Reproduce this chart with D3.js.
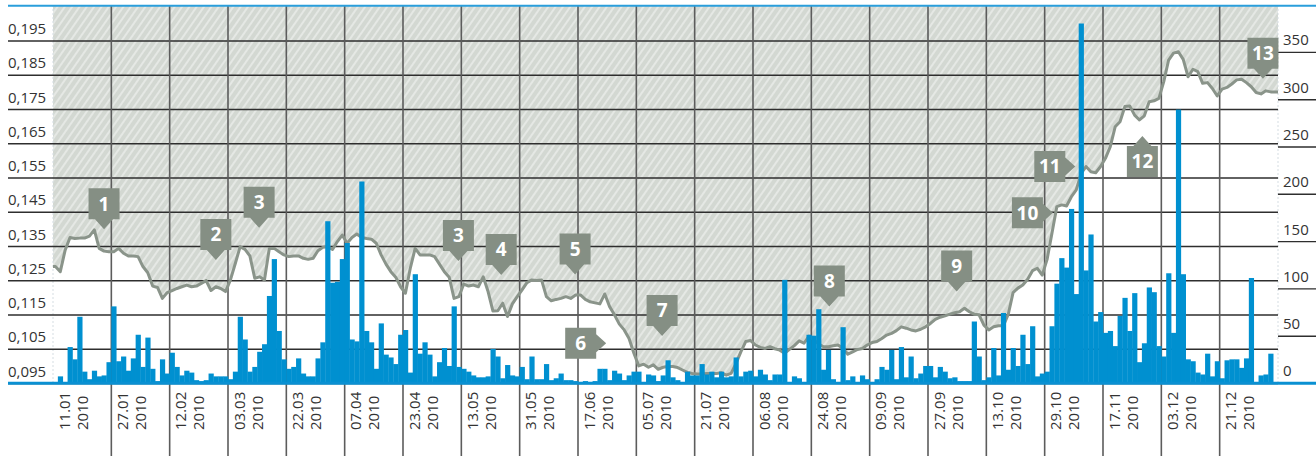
<!DOCTYPE html>
<html>
<head>
<meta charset="utf-8">
<script src="https://cdnjs.cloudflare.com/ajax/libs/d3/7.8.5/d3.min.js"></script>
<style>
body { margin: 0; background: #fff; }
svg { display: block; }
</style>
</head>
<body>
<div id="wrapper"></div>
<script>
// x axis: one label per 12 trading days
const dateLabels = ["11.01", "27.01", "12.02", "03.03", "22.03", "07.04", "23.04", "13.05", "31.05", "17.06",
    "05.07", "21.07", "06.08", "24.08", "09.09", "27.09", "13.10", "29.10", "17.11", "03.12", "21.12"]
const yearLabel = "2010"
const leftTicks = [0.095, 0.105, 0.115, 0.125, 0.135, 0.145, 0.155, 0.165, 0.175, 0.185, 0.195]
const rightTicks = [0, 50, 100, 150, 200, 250, 300, 350]

// daily volume (right axis), 12 days per row
const volume = [
    1, 7, 0, 38, 25, 70, 12, 4, 13, 7, 8, 22,
    81, 23, 28, 13, 26, 51, 17, 48, 15, 2, 25, 10,
    32, 17, 8, 13, 11, 3, 2, 3, 10, 7, 7, 7,
    4, 12, 70, 46, 12, 17, 33, 41, 92, 131, 55, 25,
    15, 17, 26, 10, 7, 7, 26, 43, 171, 106, 107, 131,
    148, 46, 44, 213, 55, 43, 15, 63, 30, 27, 20, 51,
    56, 11, 115, 31, 43, 30, 7, 22, 37, 18, 81, 17,
    15, 12, 8, 6, 6, 7, 36, 28, 5, 19, 8, 7,
    17, 4, 28, 4, 4, 20, 3, 5, 10, 3, 3, 2,
    1, 2, 1, 2, 15, 15, 3, 13, 10, 3, 8, 12,
    12, 1, 9, 8, 2, 8, 24, 6, 3, 1, 12, 8,
    8, 20, 9, 12, 6, 12, 6, 7, 27, 7, 12, 13,
    7, 14, 9, 3, 9, 9, 109, 1, 7, 5, 1, 51,
    50, 78, 14, 35, 4, 1, 59, 3, 7, 1, 8, 4,
    1, 4, 17, 14, 35, 4, 38, 6, 28, 5, 10, 18,
    18, 6, 17, 12, 5, 6, 2, 2, 2, 65, 28, 3,
    6, 37, 8, 74, 14, 37, 18, 51, 20, 60, 7, 10,
    12, 60, 105, 132, 122, 184, 94, 380, 119, 157, 65, 75,
    53, 55, 39, 71, 90, 55, 95, 22, 42, 101, 96, 39,
    28, 116, 53, 289, 115, 25, 23, 11, 9, 31, 7, 23,
    5, 24, 25, 25, 16, 26, 111, 0, 8, 9, 31, 0
]

// daily price (left axis)
const price = [
    0.1290, 0.1275, 0.1338, 0.1375, 0.1372, 0.1373, 0.1373, 0.1379, 0.1397, 0.1343,
    0.1335, 0.1333, 0.1333, 0.1343, 0.1329, 0.1321, 0.1321, 0.1319, 0.1290, 0.1272,
    0.1233, 0.1229, 0.1197, 0.1214, 0.1220, 0.1226, 0.1231, 0.1236, 0.1231, 0.1233,
    0.1241, 0.1249, 0.1220, 0.1231, 0.1226, 0.1217, 0.1251, 0.1299, 0.1348, 0.1340,
    0.1321, 0.1256, 0.1260, 0.1251, 0.1343, 0.1343, 0.1333, 0.1324, 0.1319, 0.1321,
    0.1321, 0.1314, 0.1311, 0.1314, 0.1336, 0.1346, 0.1348, 0.1340, 0.1363, 0.1382,
    0.1358, 0.1375, 0.1385, 0.1375, 0.1372, 0.1370, 0.1358, 0.1324, 0.1297, 0.1275,
    0.1259, 0.1231, 0.1212, 0.1285, 0.1343, 0.1324, 0.1324, 0.1324, 0.1319, 0.1297,
    0.1275, 0.1259, 0.1197, 0.1202, 0.1239, 0.1233, 0.1236, 0.1231, 0.1260, 0.1217,
    0.1160, 0.1161, 0.1183, 0.1144, 0.1181, 0.1202, 0.1222, 0.1243, 0.1251, 0.1249,
    0.1251, 0.1202, 0.1190, 0.1194, 0.1197, 0.1202, 0.1197, 0.1207, 0.1207, 0.1194,
    0.1187, 0.1184, 0.1181, 0.1210, 0.1173, 0.1149, 0.1122, 0.1105, 0.1080, 0.1037,
    0.1000, 0.1005, 0.0996, 0.1003, 0.0990, 0.0996, 0.0998, 0.0998, 0.0995, 0.0988,
    0.0981, 0.0978, 0.0976, 0.0976, 0.0978, 0.0978, 0.0978, 0.0980, 0.0973, 0.0978,
    0.1007, 0.1041, 0.1071, 0.1074, 0.1061, 0.1054, 0.1051, 0.1056, 0.1050, 0.1046,
    0.1037, 0.1048, 0.1059, 0.1073, 0.1066, 0.1087, 0.1076, 0.1064, 0.1056, 0.1056,
    0.1059, 0.1061, 0.1051, 0.1034, 0.1041, 0.1048, 0.1051, 0.1061, 0.1068, 0.1071,
    0.1080, 0.1090, 0.1095, 0.1103, 0.1114, 0.1110, 0.1105, 0.1102, 0.1107, 0.1114,
    0.1124, 0.1136, 0.1142, 0.1146, 0.1151, 0.1155, 0.1158, 0.1168, 0.1158, 0.1151,
    0.1149, 0.1119, 0.1105, 0.1114, 0.1117, 0.1117, 0.1150, 0.1214, 0.1227, 0.1236,
    0.1253, 0.1278, 0.1285, 0.1265, 0.1311, 0.1387, 0.1465, 0.1470, 0.1467, 0.1494,
    0.1514, 0.1562, 0.1582, 0.1567, 0.1564, 0.1582, 0.1606, 0.1640, 0.1698, 0.1713,
    0.1757, 0.1759, 0.1732, 0.1718, 0.1730, 0.1771, 0.1774, 0.1781, 0.1830, 0.1893,
    0.1913, 0.1917, 0.1895, 0.1844, 0.1866, 0.1859, 0.1825, 0.1827, 0.1810, 0.1788,
    0.1808, 0.1813, 0.1823, 0.1835, 0.1837, 0.1827, 0.1815, 0.1798, 0.1794, 0.1803,
    0.1800, 0.1800
]

// numbered callouts: tip at (day index, price), pointer direction
const markerLabels = ["1", "2", "3", "3", "4", "5", "6", "7", "8", "9", "10", "11", "12", "13"]
const markerDays = [10.0, 33.0, 41.9, 82.9, 91.7, 106.9, 113.3, 124.8, 159.2, 185.4, 205.2, 209.8, 223.6, 248.4]
const markerPrices = [0.1399, 0.1309, 0.1403, 0.1306, 0.1265, 0.1267, 0.1066, 0.1087, 0.1173, 0.1217, 0.1447, 0.1582, 0.1671, 0.1838]
const markerDirs = ["down", "down", "down", "down", "down", "down", "right", "down", "down", "down", "right", "right", "up", "down"]

const dimensions = {
    width: 1316,
    height: 456,
    left: 53,
    right: 1278,
    top: 5,
    bottom: 383,
    edge: 8
}
const daysPerLabel = 12
const fontFamily = "'Open Sans', 'DejaVu Sans', sans-serif"

const svg = d3.select("#wrapper").append("svg")
    .attr("width", dimensions.width)
    .attr("height", dimensions.height)

const defs = svg.append("defs")
const pattern = defs.append("pattern")
    .attr("id", "hatch")
    .attr("patternUnits", "userSpaceOnUse")
    .attr("width", 6)
    .attr("height", 6)
    .attr("patternTransform", "rotate(35)")
pattern.append("rect").attr("width", 6).attr("height", 6).attr("fill", "#d3d8d2")
pattern.append("line")
    .attr("x1", 3).attr("x2", 3).attr("y1", 0).attr("y2", 6)
    .attr("stroke", "#ffffff").attr("stroke-opacity", 0.75).attr("stroke-width", 1.1)

const x = d3.scaleBand()
    .domain(d3.range(volume.length))
    .range([dimensions.left, dimensions.right])
    .padding(0)
const bw = x.bandwidth()
const dayX = d => dimensions.left + bw * (d + 0.5)

const yL = d3.scaleLinear().domain([0.095, 0.195]).range([dimensions.bottom, 40.5])
const yR = d3.scaleLinear().domain([0, 350]).range([dimensions.bottom, 51.9])

// price points, stretched to the plot edges
const pts = price.map((v, i) => [x(i) + bw / 2, v])
pts.unshift([dimensions.left, price[0]])
pts.push([dimensions.right, price[price.length - 1]])

// hatched area above the price line
const area = d3.area()
    .x(d => d[0])
    .y0(dimensions.top)
    .y1(d => yL(d[1]))
svg.append("path")
    .datum(pts)
    .attr("d", area)
    .attr("fill", "url(#hatch)")

// faint edges
svg.selectAll(".edge").data([dimensions.left, dimensions.right]).enter()
    .append("line")
    .attr("x1", d => d).attr("x2", d => d)
    .attr("y1", dimensions.top).attr("y2", dimensions.bottom)
    .attr("stroke", "#d5dde2").attr("stroke-dasharray", "2,2")

// left axis with full-width grid lines
const leftAxis = d3.axisLeft(yL)
    .tickValues(leftTicks)
    .tickSize(-(dimensions.right - dimensions.edge))
    .tickFormat(d => d3.format(".3f")(d).replace(".", ","))
svg.append("g")
    .attr("transform", `translate(${dimensions.edge},0)`)
    .call(leftAxis)
    .call(g => g.select(".domain").remove())
    .call(g => g.selectAll("line").attr("stroke", "#2e2e2e").attr("stroke-width", 1.4))
    .call(g => g.selectAll("text")
        .attr("x", 0).attr("dy", -7)
        .attr("text-anchor", "start")
        .attr("fill", "#333")
        .style("font-size", "15px")
        .style("font-family", fontFamily))

// vertical separators between date labels
const seps = d3.range(1, dateLabels.length)
svg.selectAll(".sep").data(seps).enter()
    .append("line")
    .attr("x1", d => x(d * daysPerLabel)).attr("x2", d => x(d * daysPerLabel))
    .attr("y1", dimensions.top).attr("y2", dimensions.height)
    .attr("stroke", "#5c5c5c").attr("stroke-width", 1.6)

// price line
const line = d3.line().x(d => d[0]).y(d => yL(d[1]))
svg.append("path")
    .datum(pts)
    .attr("d", line)
    .attr("fill", "none")
    .attr("stroke", "#8a948a")
    .attr("stroke-width", 3)
    .attr("stroke-linejoin", "round")

// volume bars
svg.selectAll(".bar").data(volume).enter()
    .append("rect")
    .attr("x", (d, i) => x(i))
    .attr("y", d => yR(d))
    .attr("width", bw + 0.35)
    .attr("height", d => yR(0) - yR(d))
    .attr("fill", "#0090d0")

// baselines
svg.append("line")
    .attr("x1", dimensions.edge).attr("x2", dimensions.width)
    .attr("y1", yR(0) + 0.3).attr("y2", yR(0) + 0.3)
    .attr("stroke", "#0a90d2").attr("stroke-width", 3)
svg.append("line")
    .attr("x1", dimensions.edge).attr("x2", dimensions.width)
    .attr("y1", dimensions.top + 0.7).attr("y2", dimensions.top + 0.7)
    .attr("stroke", "#2a9edb").attr("stroke-width", 2)

// right axis
const rightAxis = d3.axisRight(yR)
    .tickValues(rightTicks.filter(d => d > 0))
    .tickSize(dimensions.width - dimensions.right)
svg.append("g")
    .attr("transform", `translate(${dimensions.right},0)`)
    .call(rightAxis)
    .call(g => g.select(".domain").remove())
    .call(g => g.selectAll("line").attr("stroke", "#2e2e2e").attr("stroke-width", 1.4))
    .call(g => g.selectAll("text")
        .attr("x", 5).attr("dy", -7)
        .attr("fill", "#333")
        .style("font-size", "15px")
        .style("font-family", fontFamily))
svg.append("text")
    .attr("x", dimensions.right + 5)
    .attr("y", yR(0) - 7)
    .attr("fill", "#333")
    .style("font-size", "15px")
    .style("font-family", fontFamily)
    .text(rightTicks[0])

// date labels, rotated
const xl = svg.selectAll(".xl").data(dateLabels).enter()
    .append("g")
    .attr("transform", (d, i) => `translate(${x(i * daysPerLabel) + 16.5},430) rotate(-90)`)
xl.append("text").text(d => d)
xl.append("text").attr("y", 18).text(yearLabel)
xl.selectAll("text")
    .attr("fill", "#333")
    .style("font-size", "15px")
    .style("font-family", fontFamily)

// callouts
const markers = markerLabels.map((label, i) => ({
    label: label,
    tx: dayX(markerDays[i]),
    ty: yL(markerPrices[i]),
    dir: markerDirs[i]
}))
const box = 31, gap = 10, half = 9
const mg = svg.selectAll(".marker").data(markers).enter()
    .append("g")
    .attr("transform", d => `translate(${d.tx},${d.ty})`)
mg.append("path")
    .attr("d", d => {
        if (d.dir === "down") return `M${-box / 2},${-gap - box}h${box}v${box}h${-(box / 2 - half)}L0,0L${-half},${-gap}h${-(box / 2 - half)}Z`
        if (d.dir === "up") return `M${-box / 2},${gap + box}h${box}v${-box}h${-(box / 2 - half)}L0,0L${-half},${gap}h${-(box / 2 - half)}Z`
        return `M${-gap - box},${-box / 2}v${box}h${box}v${-(box / 2 - half)}L0,0L${-gap},${-half}v${-(box / 2 - half)}Z`
    })
    .attr("fill", "#858f84")
mg.append("text")
    .attr("x", d => d.dir === "right" ? -gap - box / 2 : 0)
    .attr("y", d => d.dir === "down" ? -gap - box / 2 : d.dir === "up" ? gap + box / 2 : 0)
    .attr("dy", "0.36em")
    .attr("text-anchor", "middle")
    .attr("fill", "#fff")
    .style("font-size", "19px")
    .style("font-weight", "bold")
    .style("font-family", fontFamily)
    .text(d => d.label)
</script>
</body>
</html>
